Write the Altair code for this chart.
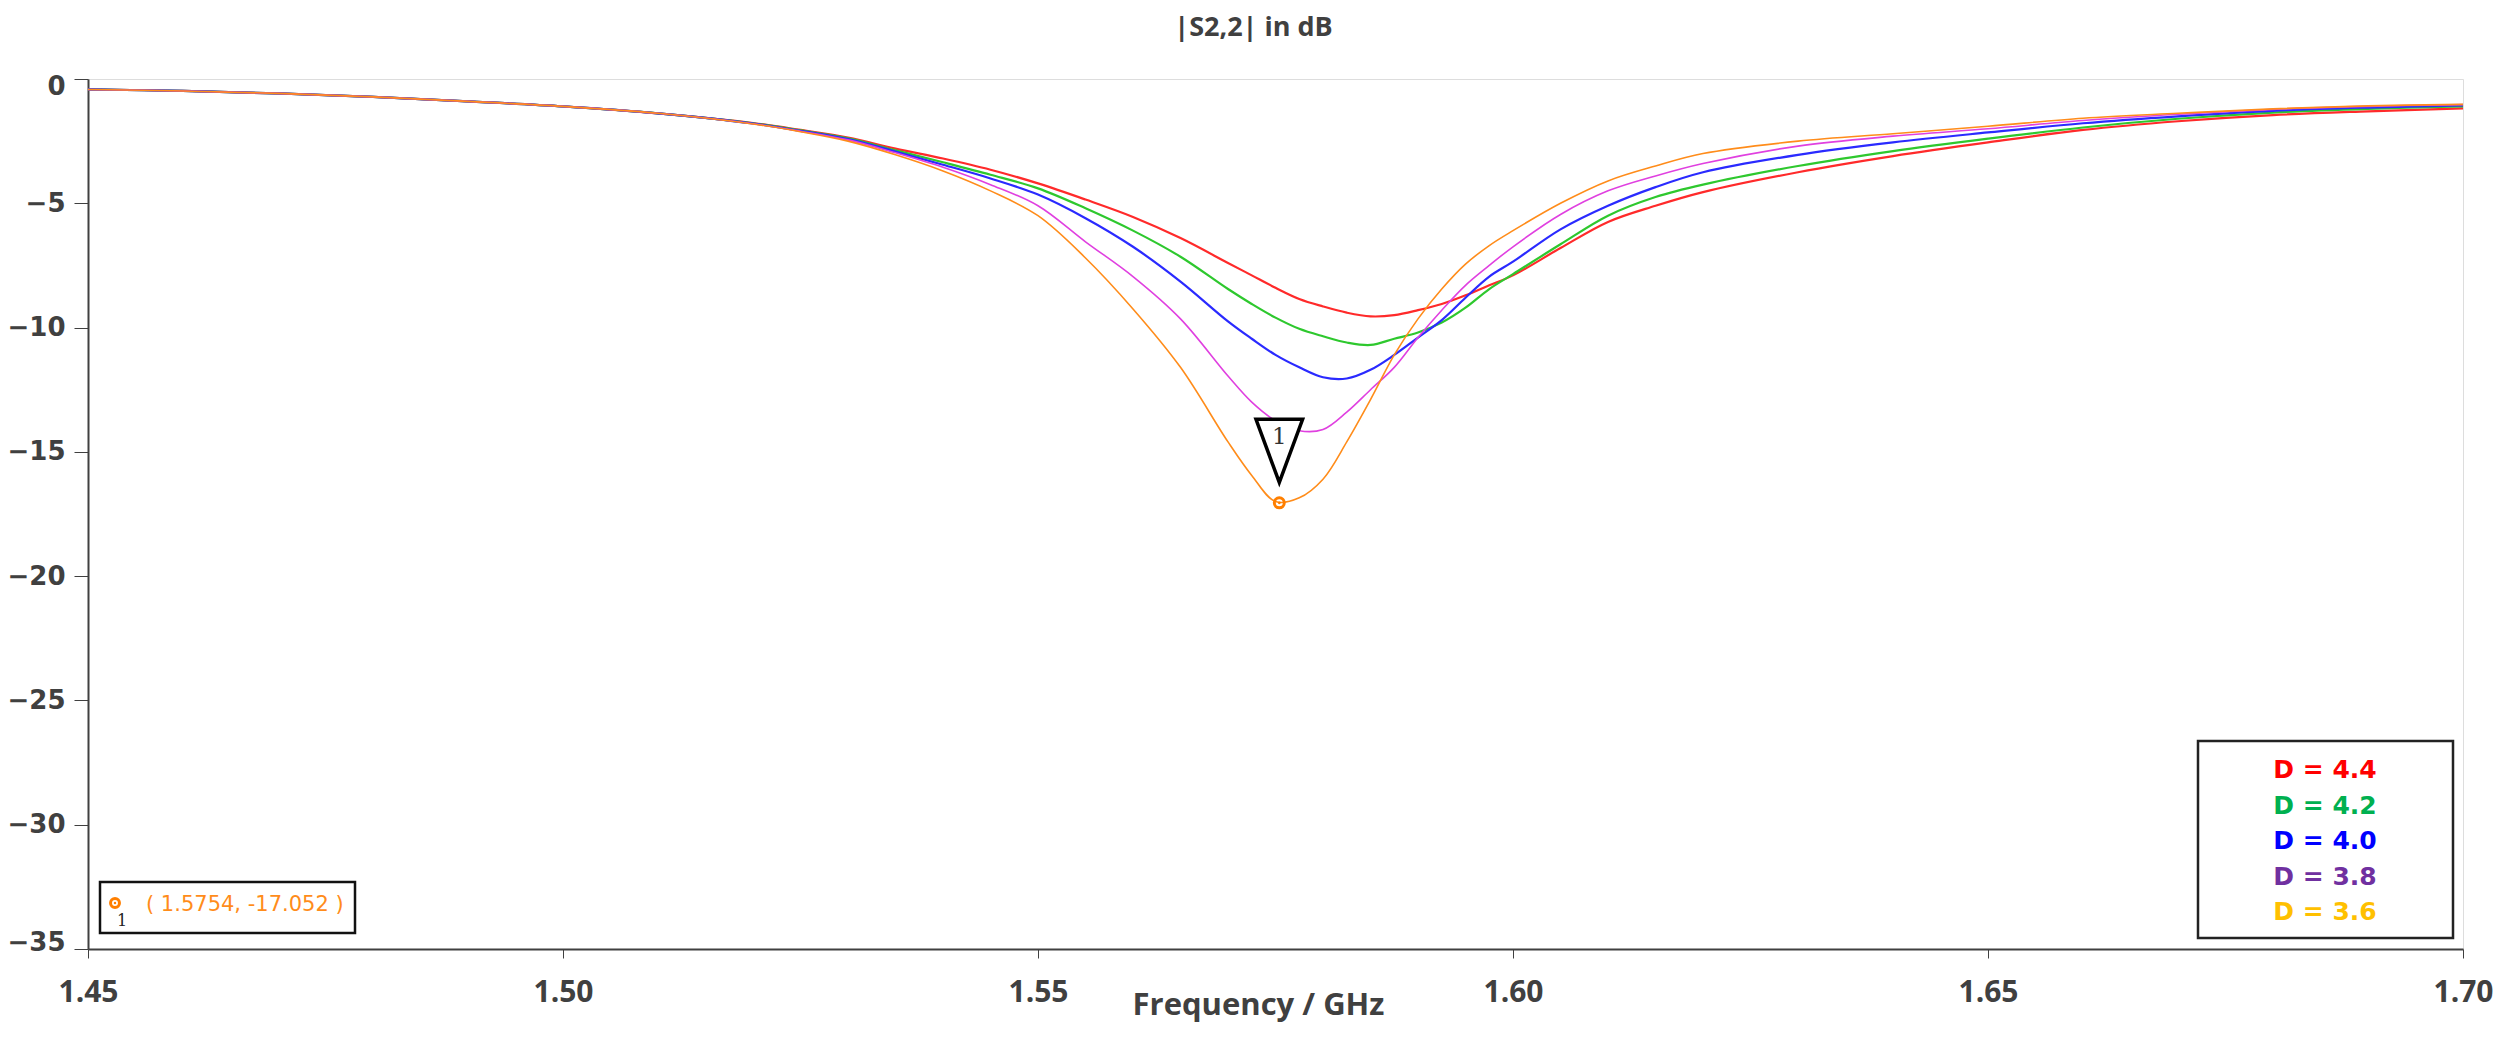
import altair as alt
import pandas as pd

# ---------------- data ----------------
freq = [1.45, 1.46, 1.47, 1.48, 1.49, 1.50, 1.51, 1.52, 1.525, 1.53, 1.535, 1.54, 1.545,
        1.55, 1.555, 1.56, 1.565, 1.57, 1.5725, 1.575, 1.5775, 1.58, 1.5825, 1.585,
        1.5875, 1.59, 1.5925, 1.595, 1.5975, 1.60, 1.605, 1.61, 1.615, 1.62, 1.63,
        1.64, 1.65, 1.66, 1.67, 1.68, 1.69, 1.70]

d44 = [-0.42, -0.48, -0.58, -0.72, -0.9, -1.1, -1.38, -1.77, -2.05, -2.36, -2.8, -3.2, -3.65,
       -4.2, -4.85, -5.55, -6.4, -7.4, -7.9, -8.4, -8.85, -9.15, -9.4, -9.55,
       -9.5, -9.3, -9.05, -8.7, -8.3, -7.9, -6.8, -5.75, -5.1, -4.55, -3.75,
       -3.1, -2.55, -2.05, -1.7, -1.45, -1.3, -1.18]
d42 = [-0.42, -0.48, -0.58, -0.72, -0.9, -1.1, -1.38, -1.78, -2.07, -2.39, -2.87, -3.35, -3.85,
       -4.4, -5.2, -6.1, -7.15, -8.45, -9.05, -9.6, -10.05, -10.35, -10.6, -10.7,
       -10.45, -10.2, -9.8, -9.2, -8.45, -7.85, -6.65, -5.5, -4.75, -4.25, -3.5,
       -2.9, -2.4, -1.95, -1.6, -1.35, -1.2, -1.1]
d40 = [-0.42, -0.48, -0.58, -0.72, -0.9, -1.1, -1.38, -1.79, -2.09, -2.42, -2.92, -3.45, -4.0,
       -4.65, -5.6, -6.75, -8.15, -9.75, -10.45, -11.1, -11.6, -12.0, -12.05, -11.7,
       -11.1, -10.4, -9.7, -8.8, -7.95, -7.35, -6.05, -5.1, -4.35, -3.75, -3.05,
       -2.55, -2.15, -1.78, -1.5, -1.28, -1.15, -1.06]
d38 = [-0.42, -0.48, -0.58, -0.72, -0.9, -1.1, -1.38, -1.8, -2.1, -2.45, -2.97, -3.55, -4.25,
       -5.1, -6.55, -7.95, -9.65, -11.95, -13.0, -13.75, -14.15, -14.1, -13.4, -12.5,
       -11.6, -10.4, -9.3, -8.3, -7.5, -6.75, -5.45, -4.5, -3.9, -3.4, -2.7,
       -2.3, -2.0, -1.67, -1.42, -1.22, -1.1, -1.03]
d36 = [-0.42, -0.48, -0.58, -0.72, -0.9, -1.1, -1.38, -1.81, -2.12, -2.5, -3.05, -3.7, -4.5,
       -5.5, -7.2, -9.25, -11.6, -14.6, -15.95, -17.0, -16.85, -16.1, -14.6, -12.9,
       -11.1, -9.65, -8.45, -7.45, -6.7, -6.1, -5.0, -4.1, -3.5, -3.0, -2.5,
       -2.2, -1.9, -1.58, -1.38, -1.2, -1.08, -1.02]

series_labels = ["D = 4.4", "D = 4.2", "D = 4.0", "D = 3.8", "D = 3.6"]
series_values = [d44, d42, d40, d38, d36]

x_ticks = [1.45, 1.50, 1.55, 1.60, 1.65, 1.70]
y_ticks = [0, -5, -10, -15, -20, -25, -30, -35]

marker_freq = [1.5754]
marker_db = [-17.052]
marker_id = ["1"]

# ---------------- styles ----------------
line_colors = ["#ff2a2a", "#2ec82e", "#2a2aff", "#e040e0", "#ff8c1a"]
line_widths = [2.2, 2.2, 2.2, 1.6, 1.6]
legend_colors = ["#ff0000", "#00b050", "#0000ff", "#7030a0", "#ffc000"]
TEXT = "#404040"
LABEL_FONT = "Open Sans"

rows = []
for lab, vals in zip(series_labels, series_values):
    for f, v in zip(freq, vals):
        rows.append({"series": lab, "f": f, "db": v})
df = pd.DataFrame(rows)

xs = alt.Scale(domain=[1.45, 1.70], nice=False, zero=False)
ys = alt.Scale(domain=[-35, 0], nice=False, zero=False)

x_enc = alt.X("f:Q", scale=xs, axis=alt.Axis(
    values=x_ticks, format=".2f", title="Frequency / GHz", grid=False,
    labelFont=LABEL_FONT, labelFontSize=30, labelFontWeight="bold", labelColor=TEXT,
    titleFont=LABEL_FONT, titleFontSize=31, titleFontWeight="bold", titleColor=TEXT,
    titlePadding=-17, titleX=1170, tickSize=9, labelPadding=19, domainColor="#404040",
    domainWidth=2, tickColor="#404040", labelFlush=False))
y_enc = alt.Y("db:Q", scale=ys, axis=alt.Axis(
    values=y_ticks, format="d", title=None, grid=False,
    labelFont="DejaVu Sans", labelFontSize=26, labelFontWeight="bold", labelColor=TEXT,
    tickSize=14, labelPadding=9, domainColor="#404040", domainWidth=2,
    tickColor="#404040", labelFlush=True, labelFlushOffset=6))

layers = []
for lab, col, w in zip(series_labels, line_colors, line_widths):
    layers.append(
        alt.Chart(df).transform_filter(alt.datum.series == lab)
        .mark_line(color=col, strokeWidth=w, interpolate="catmull-rom")
        .encode(x=x_enc, y=y_enc)
    )

mdf = pd.DataFrame({"f": marker_freq, "db": marker_db, "id": marker_id})
mbase = alt.Chart(mdf).encode(x=alt.X("f:Q", scale=xs), y=alt.Y("db:Q", scale=ys))

tri = mbase.mark_point(shape="M-0.74,-1L0.74,-1L0,1Z", size=3969, filled=True,
                       fill="white", stroke="black", strokeWidth=3.5, opacity=1,
                       yOffset=-52)
tri_txt = mbase.mark_text(font="DejaVu Serif", fontSize=23, color="#333333",
                          yOffset=-66).encode(text="id:N")
ring = mbase.mark_point(shape="circle", filled=False, stroke="#ff7f00",
                        strokeWidth=3, size=100, opacity=1)
dot = mbase.mark_point(shape="circle", filled=True, color="#ff7f00", size=8, opacity=1)

# marker readout box (bottom-left)
info_box = alt.Chart(mdf).mark_rect(fill="white", stroke="#111111", strokeWidth=2.5).encode(
    x=alt.value(12), x2=alt.value(267), y=alt.value(803), y2=alt.value(854))
info_txt = alt.Chart(mdf).transform_calculate(
    lbl="replace('( ' + format(datum.f, '.4f') + ', ' + format(datum.db, '.3f') + ' )', '\u2212', '-')"
).mark_text(align="left", baseline="middle", font="DejaVu Sans", fontSize=21,
            color="#ff8c1a").encode(x=alt.value(58), y=alt.value(826), text="lbl:N")
info_ring = alt.Chart(mdf).mark_point(shape="circle", filled=False, stroke="#ff7f00",
                                      strokeWidth=3, size=80, opacity=1).encode(
    x=alt.value(27), y=alt.value(824))
info_dot = alt.Chart(mdf).mark_point(shape="circle", filled=True, color="#ff7f00",
                                     size=6, opacity=1).encode(x=alt.value(27), y=alt.value(824))
info_id = alt.Chart(mdf).mark_text(font="DejaVu Serif", fontSize=16, color="#222222").encode(
    x=alt.value(34), y=alt.value(842), text="id:N")

# series legend box (bottom-right)
ldf = pd.DataFrame({"label": series_labels, "i": list(range(len(series_labels)))})
leg_box = alt.Chart(mdf).mark_rect(fill="white", stroke="#222222", strokeWidth=2.5).encode(
    x=alt.value(2110), x2=alt.value(2365), y=alt.value(662), y2=alt.value(859))
leg_txt = alt.Chart(ldf).transform_calculate(py="691 + datum.i * 35.5").mark_text(
    align="center", baseline="middle", font="DejaVu Sans", fontSize=25, fontWeight="bold"
).encode(
    x=alt.value(2237),
    y=alt.Y("py:Q", scale=None, axis=None),
    text="label:N",
    fill=alt.Fill("label:N", scale=alt.Scale(domain=series_labels, range=legend_colors),
                  legend=None),
)

chart = alt.layer(
    *layers, tri, tri_txt, ring, dot,
    info_box, info_ring, info_dot, info_id, info_txt,
    leg_box, leg_txt,
).properties(
    width=2375, height=870,
    title=alt.Title("|S2,2| in dB", font=LABEL_FONT, fontSize=27, fontWeight="bold",
                    color=TEXT, anchor="middle", offset=31, dx=-22),
    autosize="none",
    padding={"left": 80, "top": 71, "right": 30, "bottom": 78},
).configure_view(stroke="#404040", strokeWidth=2).configure(background="white")

chart.save("out.html", embed_options={"renderer": "svg", "actions": False})
